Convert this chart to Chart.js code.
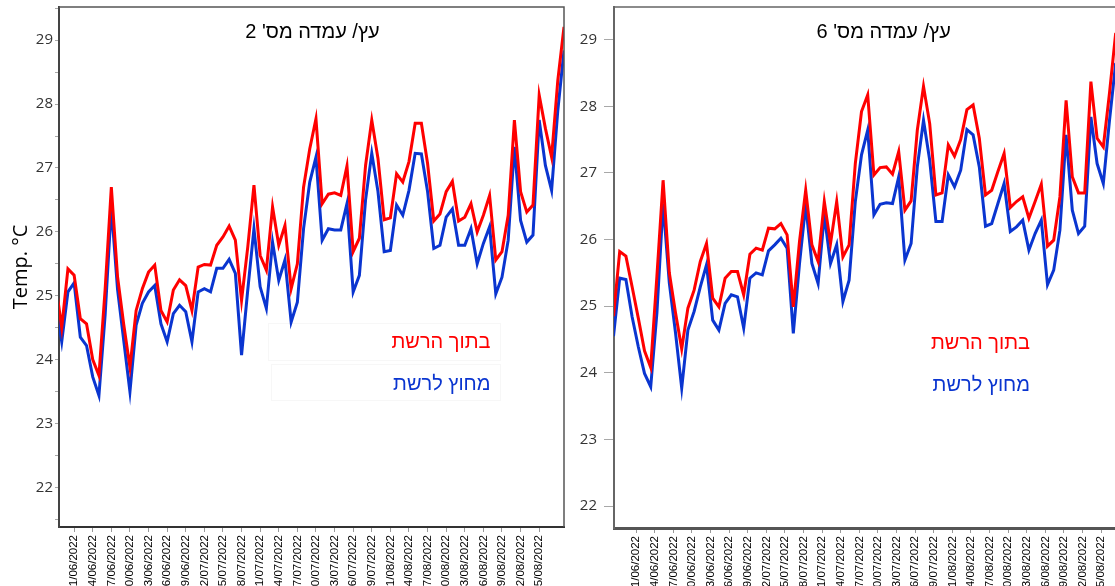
<!DOCTYPE html>
<html>
<head>
<meta charset="utf-8">
<title>Temp. °C</title>
<script src="https://cdn.jsdelivr.net/npm/chart.js@4.4.0/dist/chart.umd.min.js"></script>
<style>
  html, body { margin: 0; padding: 0; width: 1115px; height: 586px; overflow: hidden; background: #fff; }
  .panel { position: absolute; top: 0; width: 590px; height: 620px; }
  #panel2 { left: 0; }
  #panel6 { left: 560px; }
</style>
</head>
<body>
<div class="panel" id="panel2"><canvas id="chart2" width="590" height="620"></canvas></div>
<div class="panel" id="panel6"><canvas id="chart6" width="590" height="620"></canvas></div>
<script>
// Daily mean temperature, one value per day (index 0 = first day of the series)
const seriesNames = ['בתוך הרשת', 'מחוץ לרשת'];

const station2Inside = [
  25.20, 24.50, 25.42, 25.32, 24.64, 24.56, 24.00, 23.75, 25.10, 26.70,
  25.30, 24.55, 23.88, 24.77, 25.11, 25.37, 25.48, 24.77, 24.59, 25.09,
  25.25, 25.16, 24.77, 25.45, 25.49, 25.48, 25.79, 25.92, 26.09, 25.87,
  24.93, 25.76, 26.73, 25.63, 25.40, 26.39, 25.79, 26.10, 25.11, 25.50,
  26.70, 27.30, 27.77, 26.44, 26.59, 26.61, 26.57, 27.03, 25.69, 25.90,
  27.04, 27.75, 27.15, 26.19, 26.22, 26.91, 26.78, 27.10, 27.70, 27.70,
  27.07, 26.17, 26.28, 26.63, 26.79, 26.17, 26.23, 26.44, 26.00, 26.26,
  26.57, 25.56, 25.69, 26.26, 27.75, 26.63, 26.31, 26.42, 28.14, 27.62,
  27.17, 28.37, 29.21, 28.90
];
const station2Outside = [
  24.90, 24.28, 25.06, 25.20, 24.35, 24.22, 23.73, 23.44, 24.70, 26.39,
  25.10, 24.30, 23.50, 24.54, 24.88, 25.06, 25.16, 24.56, 24.28, 24.72,
  24.85, 24.75, 24.28, 25.06, 25.11, 25.06, 25.43, 25.43, 25.57, 25.35,
  24.07, 25.09, 26.05, 25.14, 24.80, 25.84, 25.24, 25.56, 24.59, 24.90,
  26.05, 26.78, 27.17, 25.87, 26.05, 26.03, 26.03, 26.44, 25.06, 25.32,
  26.50, 27.23, 26.63, 25.69, 25.71, 26.42, 26.26, 26.65, 27.23, 27.22,
  26.63, 25.74, 25.79, 26.23, 26.36, 25.79, 25.79, 26.05, 25.50, 25.82,
  26.08, 25.03, 25.29, 25.87, 27.33, 26.18, 25.84, 25.95, 27.75, 27.04,
  26.65, 27.90, 28.84, 28.30
];
const station6Inside = [
  25.20, 24.85, 25.82, 25.75, 25.29, 24.82, 24.33, 24.08, 25.45, 26.89,
  25.50, 24.90, 24.36, 24.97, 25.24, 25.67, 25.94, 25.12, 24.99, 25.42,
  25.52, 25.52, 25.17, 25.78, 25.87, 25.84, 26.17, 26.16, 26.24, 26.07,
  24.99, 25.97, 26.74, 25.92, 25.67, 26.57, 25.94, 26.57, 25.74, 25.92,
  27.14, 27.92, 28.17, 26.97, 27.08, 27.09, 26.98, 27.32, 26.44, 26.58,
  27.64, 28.30, 27.74, 26.67, 26.70, 27.42, 27.25, 27.50, 27.95, 28.02,
  27.52, 26.67, 26.74, 27.02, 27.29, 26.48, 26.57, 26.64, 26.32, 26.57,
  26.83, 25.90, 25.99, 26.64, 28.09, 26.94, 26.70, 26.70, 28.37, 27.52,
  27.39, 28.20, 29.10
];
const station6Outside = [
  24.85, 24.55, 25.42, 25.40, 24.84, 24.39, 23.99, 23.79, 24.90, 26.54,
  25.35, 24.60, 23.77, 24.64, 24.92, 25.29, 25.62, 24.79, 24.64, 25.04,
  25.17, 25.14, 24.67, 25.42, 25.50, 25.47, 25.83, 25.92, 26.02, 25.87,
  24.59, 25.64, 26.52, 25.64, 25.34, 26.37, 25.64, 25.92, 25.07, 25.39,
  26.57, 27.27, 27.64, 26.37, 26.53, 26.55, 26.54, 26.94, 25.69, 25.94,
  27.09, 27.79, 27.19, 26.27, 26.27, 26.97, 26.79, 27.04, 27.65, 27.57,
  27.09, 26.20, 26.24, 26.54, 26.84, 26.12, 26.19, 26.29, 25.84, 26.09,
  26.29, 25.32, 25.54, 26.14, 27.57, 26.44, 26.09, 26.20, 27.84, 27.14,
  26.84, 27.79, 28.65
];

// Date labels on the time axis (every third day)
const dateTicks = [
  '11/06/2022', '14/06/2022', '17/06/2022', '20/06/2022', '23/06/2022', '26/06/2022',
  '29/06/2022', '02/07/2022', '05/07/2022', '08/07/2022', '11/07/2022', '14/07/2022',
  '17/07/2022', '20/07/2022', '23/07/2022', '26/07/2022', '29/07/2022', '01/08/2022',
  '04/08/2022', '07/08/2022', '10/08/2022', '13/08/2022', '16/08/2022', '19/08/2022',
  '22/08/2022', '25/08/2022'
];

// Temperature axis ticks
const station2TempTicks = [21.5, 22, 22.5, 23, 23.5, 24, 24.5, 25, 25.5, 26, 26.5, 27, 27.5, 28, 28.5, 29, 29.5];
const station6TempTicks = [22, 23, 24, 25, 26, 27, 28, 29];

const RED = '#ff0000';
const BLUE = '#0a35d0';

// Frame on the top and right sides of the plot area
const framePlugin = {
  id: 'frame',
  afterDraw(chart, args, opts) {
    const a = chart.chartArea, ctx = chart.ctx;
    ctx.save();
    ctx.strokeStyle = opts.color;
    ctx.lineWidth = opts.width;
    ctx.beginPath();
    ctx.moveTo(a.left, a.top);
    ctx.lineTo(a.right, a.top);
    ctx.lineTo(a.right, a.bottom);
    ctx.stroke();
    ctx.restore();
  }
};

// Panel heading and the text-only series key inside the plot area
const labelsPlugin = {
  id: 'panelLabels',
  afterDraw(chart, args, opts) {
    const a = chart.chartArea, ctx = chart.ctx;
    ctx.save();
    ctx.direction = 'rtl';
    ctx.textBaseline = 'middle';

    if (opts.boxes) {
      ctx.strokeStyle = 'rgba(0,0,0,0.03)';
      ctx.lineWidth = 1;
      opts.boxes.forEach(b => ctx.strokeRect(a.left + b[0] + 0.5, b[1] + 0.5, b[2], b[3]));
    }

    ctx.fillStyle = '#000';
    ctx.textAlign = 'center';
    ctx.font = '20px "Liberation Sans", Arial, sans-serif';
    ctx.fillText(opts.title, a.left + opts.titleX, opts.titleY);

    ctx.textAlign = 'right';
    ctx.font = '20px "Liberation Sans", Arial, sans-serif';
    chart.data.datasets.forEach((ds, i) => {
      ctx.fillStyle = ds.borderColor;
      ctx.fillText(ds.label, a.left + opts.keyRight, opts.keyY[i]);
    });
    ctx.restore();
  }
};

// Keep the plot area exactly where the layout padding puts it
function noEdgePadding(s) {
  s.paddingTop = 0; s.paddingBottom = 0; s.paddingLeft = 0; s.paddingRight = 0;
}

function makePanel(canvasId, p) {
  const toPoints = arr => arr.map((v, i) => ({ x: i, y: v }));
  return new Chart(document.getElementById(canvasId), {
    type: 'line',
    data: {
      datasets: [
        { label: seriesNames[0], data: toPoints(p.inside), borderColor: RED, borderWidth: 3, pointRadius: 0, tension: 0, fill: false },
        { label: seriesNames[1], data: toPoints(p.outside), borderColor: BLUE, borderWidth: 3, pointRadius: 0, tension: 0, fill: false }
      ]
    },
    options: {
      responsive: false,
      animation: false,
      events: [],
      layout: { padding: { top: 7, right: p.rightPad, left: 0, bottom: 0 } },
      plugins: {
        legend: { display: false },
        tooltip: { enabled: false },
        frame: { color: p.frameColor, width: 1.5 },
        panelLabels: { title: p.title, titleX: p.titleX, titleY: 32, keyRight: p.keyRight, keyY: p.keyY, boxes: p.boxes }
      },
      scales: {
        x: {
          type: 'linear',
          min: p.xMin,
          max: p.xMax,
          border: { color: p.bottomColor, width: p.bottomWidth },
          grid: { drawOnChartArea: false, drawTicks: true, tickLength: 5, color: '#9a9a9a' },
          ticks: {
            autoSkip: false, minRotation: 90, maxRotation: 90, padding: 3,
            color: '#000', font: { family: 'Liberation Sans', size: 11.5 },
            callback: (v, i) => dateTicks[i]
          },
          afterBuildTicks: s => { s.ticks = dateTicks.map((_, k) => ({ value: p.firstTick + 3 * k })); },
          afterFit: s => { s.height = p.xAxisHeight; noEdgePadding(s); }
        },
        y: {
          type: 'linear',
          min: p.yMin,
          max: p.yMax,
          border: { color: p.leftColor, width: 2 },
          grid: { drawOnChartArea: false, drawTicks: true, tickLength: p.yTickLength, color: '#a8a8a8' },
          ticks: {
            padding: p.yTickPad, color: '#333',
            font: { family: 'Open Sans', size: 15 },
            callback: v => (Number.isInteger(v) ? String(v) : '')
          },
          afterBuildTicks: s => { s.ticks = p.yTicks.map(v => ({ value: v })); },
          afterFit: s => { s.width = p.yAxisWidth; noEdgePadding(s); },
          title: {
            display: p.showYTitle, text: 'Temp. °C', color: '#000',
            font: { family: 'Open Sans', size: 20 }, padding: { top: 9, bottom: 0 }
          }
        }
      }
    },
    plugins: [framePlugin, labelsPlugin]
  });
}

makePanel('chart2', {
  title: "עץ/ עמדה מס' 2",
  inside: station2Inside, outside: station2Outside,
  xMin: 0.56, xMax: 82.0, firstTick: 3,
  yMin: 21.38, yMax: 29.52, yTicks: station2TempTicks,
  yAxisWidth: 59, rightPad: 26, xAxisHeight: 93,
  yTickLength: 4, yTickPad: 2, showYTitle: true,
  leftColor: '#444', bottomColor: '#333', bottomWidth: 2, frameColor: '#555',
  titleX: 253.5, keyRight: 431.5, keyY: [342.5, 384],
  boxes: [[209, 323, 232, 37], [212, 364, 229, 36]]
});

makePanel('chart6', {
  title: "עץ/ עמדה מס' 6",
  inside: station6Inside, outside: station6Outside,
  xMin: 1.08, xMax: 82.37, firstTick: 4.65,
  yMin: 21.67, yMax: 29.49, yTicks: station6TempTicks,
  yAxisWidth: 54, rightPad: 32, xAxisHeight: 92,
  yTickLength: 10, yTickPad: 7, showYTitle: false,
  leftColor: '#666', bottomColor: '#555', bottomWidth: 3, frameColor: '#666',
  titleX: 269.7, keyRight: 416, keyY: [343, 385],
  boxes: null
});
</script>
</body>
</html>
